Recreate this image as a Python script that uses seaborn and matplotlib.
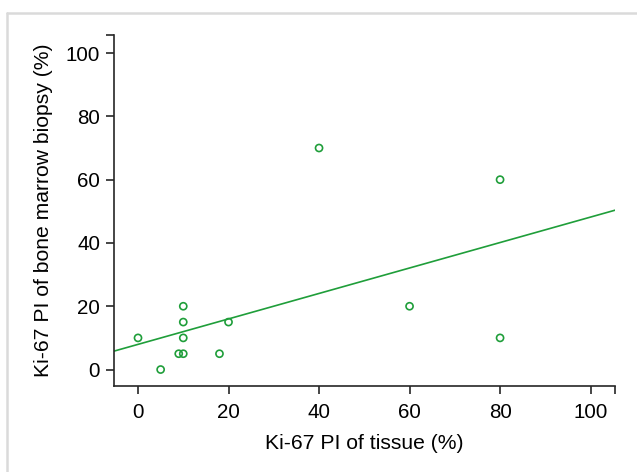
import matplotlib
matplotlib.use("Agg")
import matplotlib.pyplot as plt
from matplotlib.lines import Line2D
import seaborn as sns
import pandas as pd

# Ki-67 proliferation index, tissue vs bone marrow biopsy
tissue = [0, 5, 9, 10, 10, 10, 10, 18, 20, 40, 60, 80, 80]
marrow = [10, 0, 5, 5, 10, 15, 20, 5, 15, 70, 20, 60, 10]
ticks = [0, 20, 40, 60, 80, 100]

df = pd.DataFrame({"tissue": tissue, "marrow": marrow})

sns.set_style("ticks")
plt.rcParams["font.family"] = ["Liberation Sans", "DejaVu Sans"]

green = "#1f9e3a"
ink = "#262626"

fig = plt.figure(figsize=(6.37, 4.72), dpi=100)
ax = fig.add_axes([0.179, 0.1822, 0.7865, 0.7436])
ax.set_xlim(-5.3, 105.4)
ax.set_ylim(-5.2, 105.7)

sns.regplot(x="tissue", y="marrow", data=df, ax=ax, ci=None, truncate=False,
            color=green,
            scatter_kws=dict(s=26, facecolors="none", linewidths=1.2, alpha=1),
            line_kws=dict(lw=1.2))

ax.set_xlim(-5.3, 105.4)
ax.set_ylim(-5.2, 105.7)
ax.set_xticks(ticks)
ax.set_yticks(ticks)
# small caps at the far ends of the axes
ax.set_xticks([105.4], minor=True)
ax.set_yticks([105.7], minor=True)
ax.tick_params(which="both", length=6, width=1.2, color=ink, labelsize=14.8,
               labelcolor="black")
ax.tick_params(axis="x", pad=6)
ax.tick_params(axis="y", pad=4)

for side in ["top", "right"]:
    ax.spines[side].set_visible(False)
for side in ["left", "bottom"]:
    ax.spines[side].set_color(ink)
    ax.spines[side].set_linewidth(1.2)

ax.set_xlabel("Ki-67 PI of tissue (%)", fontsize=15.2, labelpad=9, color="black")
ax.set_ylabel("Ki-67 PI of bone marrow biopsy (%)", fontsize=15.2, labelpad=9,
              color="black")

# light frame visible on the top and left edges
fig.add_artist(Line2D([7 / 637, 1], [1 - 12.5 / 472, 1 - 12.5 / 472],
                      transform=fig.transFigure, color="#dadada", lw=1.8))
fig.add_artist(Line2D([7 / 637, 7 / 637], [0, 1 - 12.5 / 472],
                      transform=fig.transFigure, color="#dadada", lw=1.8))

fig.savefig("out.png", dpi=100)
